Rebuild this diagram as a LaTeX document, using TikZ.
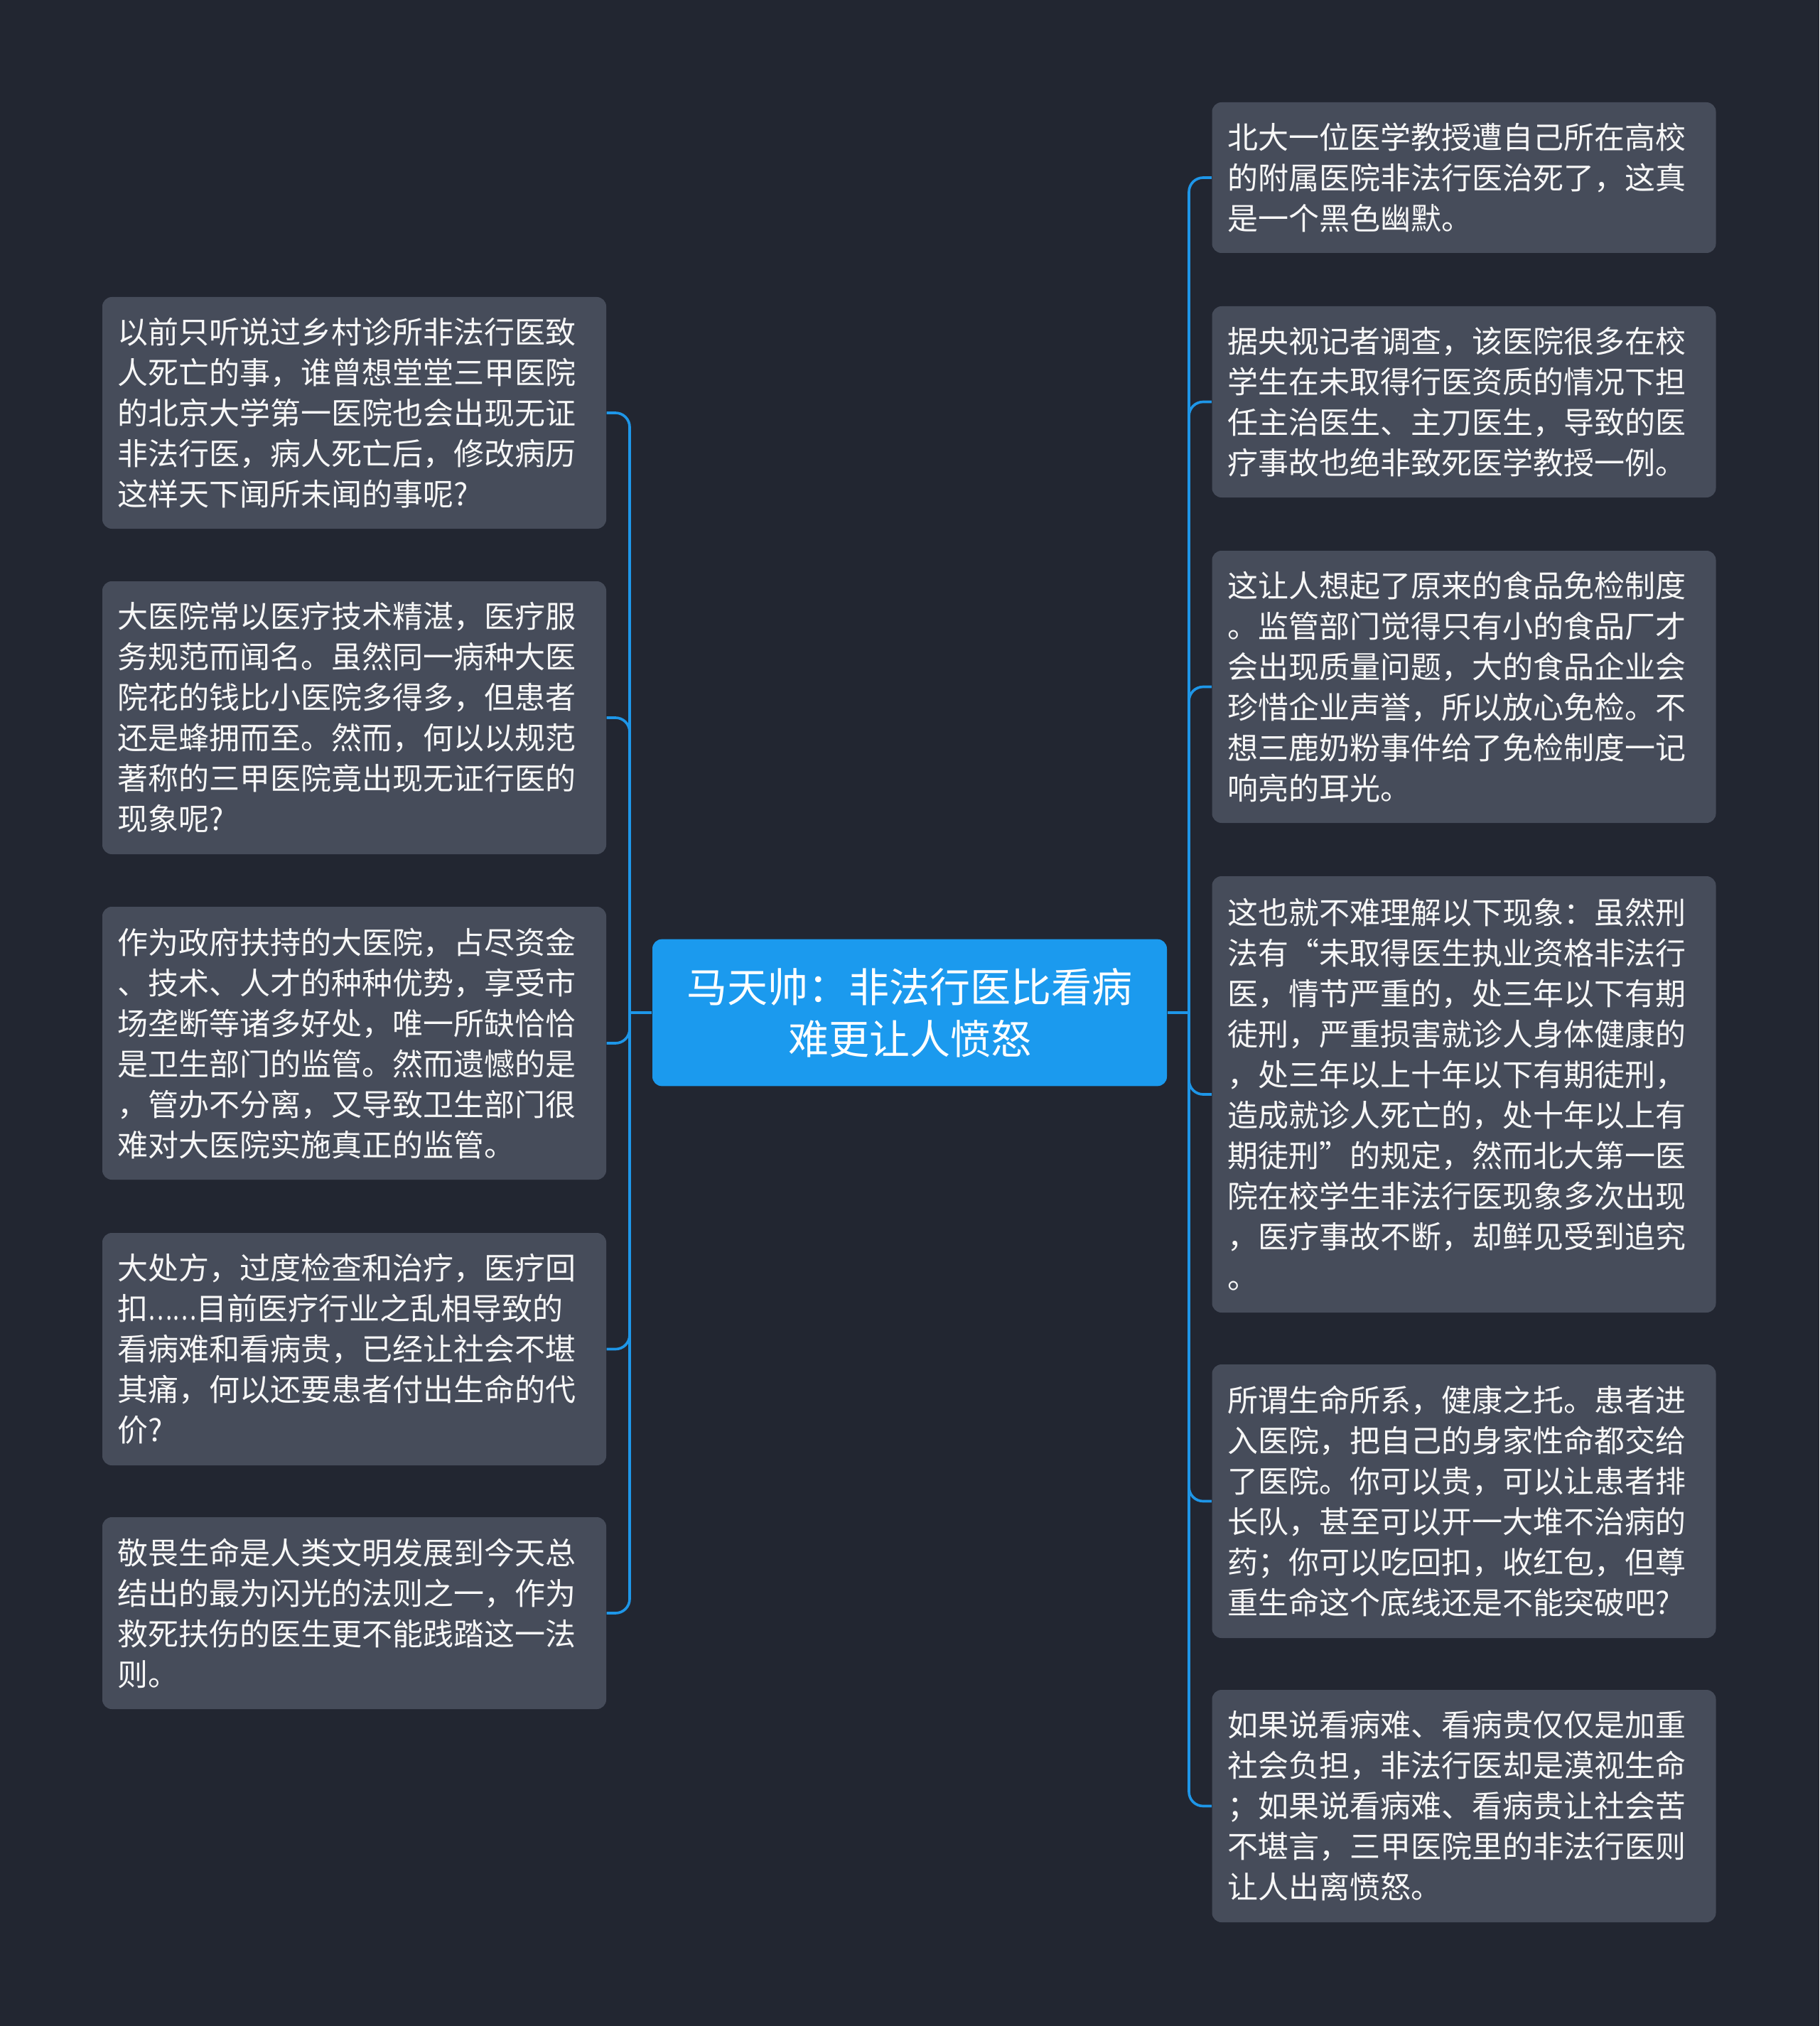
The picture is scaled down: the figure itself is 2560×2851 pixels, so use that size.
\documentclass[tikz,border=0pt]{standalone}
\usepackage{fontspec}
\usepackage{graphicx}
\newfontfamily\cjk{Noto Sans CJK SC}
\definecolor{bgc}{HTML}{222631}
\definecolor{boxc}{HTML}{464C5A}
\definecolor{rootc}{HTML}{1B9AEE}
\definecolor{linec}{HTML}{1E96E8}
\definecolor{txtc}{HTML}{F7F7F7}
\tikzset{
  leaf/.style={fill=boxc, rounded corners=4pt, text=txtc,
    font=\cjk\fontsize{12.9}{17.1}\selectfont, align=left,
    text width=199.8pt, inner xsep=6.45pt, inner ysep=0pt},
  root/.style={fill=rootc, rounded corners=4pt, text=white,
    font=\cjk\fontsize{17.1}{21.9}\selectfont, align=center,
    minimum width=217.2pt, minimum height=62pt, inner sep=0pt},
  trunk/.style={draw=linec, line width=1.1pt},
  conn/.style={draw=linec, line width=1.1pt, rounded corners=6pt}
}
\begin{document}
\begin{tikzpicture}[x=0.3pt,y=-0.3pt]
\fill[bgc] (0,0) rectangle (2560,2851);
\useasboundingbox (0,0) rectangle (2560,2851);

\node[root] (root) at (1280,1425) {马天帅：非法行医比看病\\难更让人愤怒};

% left
\node[leaf, minimum height=97.8pt] (l1) at (498.5,581) {以前只听说过乡村诊所非法行医致\\人死亡的事，谁曾想堂堂三甲医院\\的北京大学第一医院也会出现无证\\非法行医，病人死亡后，修改病历\\这样天下闻所未闻的事呢?};
\node[leaf, minimum height=115.2pt] (l2) at (498.5,1010) {大医院常以医疗技术精湛，医疗服\\务规范而闻名。虽然同一病种大医\\院花的钱比小医院多得多，但患者\\还是蜂拥而至。然而，何以以规范\\著称的三甲医院竟出现无证行医的\\现象呢?};
\node[leaf, minimum height=115.2pt] (l3) at (498.5,1468) {作为政府扶持的大医院，占尽资金\\、技术、人才的种种优势，享受市\\场垄断等诸多好处，唯一所缺恰恰\\是卫生部门的监管。然而遗憾的是\\，管办不分离，又导致卫生部门很\\难对大医院实施真正的监管。};
\node[leaf, minimum height=98.1pt] (l4) at (498.5,1898.5) {大处方，过度检查和治疗，医疗回\\扣\scalebox{0.75}[1]{……}目前医疗行业之乱相导致的\\看病难和看病贵，已经让社会不堪\\其痛，何以还要患者付出生命的代\\价?};
\node[leaf, minimum height=81pt] (l5) at (498.5,2270) {敬畏生命是人类文明发展到今天总\\结出的最为闪光的法则之一，作为\\救死扶伤的医生更不能践踏这一法\\则。};

% right
\node[leaf, minimum height=63.6pt] (r1) at (2060,250) {北大一位医学教授遭自己所在高校\\的附属医院非法行医治死了，这真\\是一个黑色幽默。};
\node[leaf, minimum height=80.7pt] (r2) at (2060,565.5) {据央视记者调查，该医院很多在校\\学生在未取得行医资质的情况下担\\任主治医生、主刀医生，导致的医\\疗事故也绝非致死医学教授一例。};
\node[leaf, minimum height=114.9pt] (r3) at (2060,966.5) {这让人想起了原来的食品免检制度\\。监管部门觉得只有小的食品厂才\\会出现质量问题，大的食品企业会\\珍惜企业声誉，所以放心免检。不\\想三鹿奶粉事件给了免检制度一记\\响亮的耳光。};
\node[leaf, minimum height=184.2pt] (r4) at (2060,1540) {这也就不难理解以下现象：虽然刑\\法有“未取得医生执业资格非法行\\医，情节严重的，处三年以下有期\\徒刑，严重损害就诊人身体健康的\\，处三年以上十年以下有期徒刑，\\造成就诊人死亡的，处十年以上有\\期徒刑”的规定，然而北大第一医\\院在校学生非法行医现象多次出现\\，医疗事故不断，却鲜见受到追究\\。};
\node[leaf, minimum height=115.5pt] (r5) at (2060,2112.5) {所谓生命所系，健康之托。患者进\\入医院，把自己的身家性命都交给\\了医院。你可以贵，可以让患者排\\长队，甚至可以开一大堆不治病的\\药；你可以吃回扣，收红包，但尊\\重生命这个底线还是不能突破吧?};
\node[leaf, minimum height=98.1pt] (r6) at (2060,2541.5) {如果说看病难、看病贵仅仅是加重\\社会负担，非法行医却是漠视生命\\；如果说看病难、看病贵让社会苦\\不堪言，三甲医院里的非法行医则\\让人出离愤怒。};

% connectors
\coordinate (jl) at (886,1425);
\coordinate (jr) at (1673,1425);
\draw[trunk] (root.west) -- (jl);
\draw[trunk] (root.east) -- (jr);
\foreach \n in {l1,l2,l3,l4,l5} \draw[conn] (jl) |- (\n.east);
\foreach \n in {r1,r2,r3,r4,r5,r6} \draw[conn] (jr) |- (\n.west);
\end{tikzpicture}
\end{document}
